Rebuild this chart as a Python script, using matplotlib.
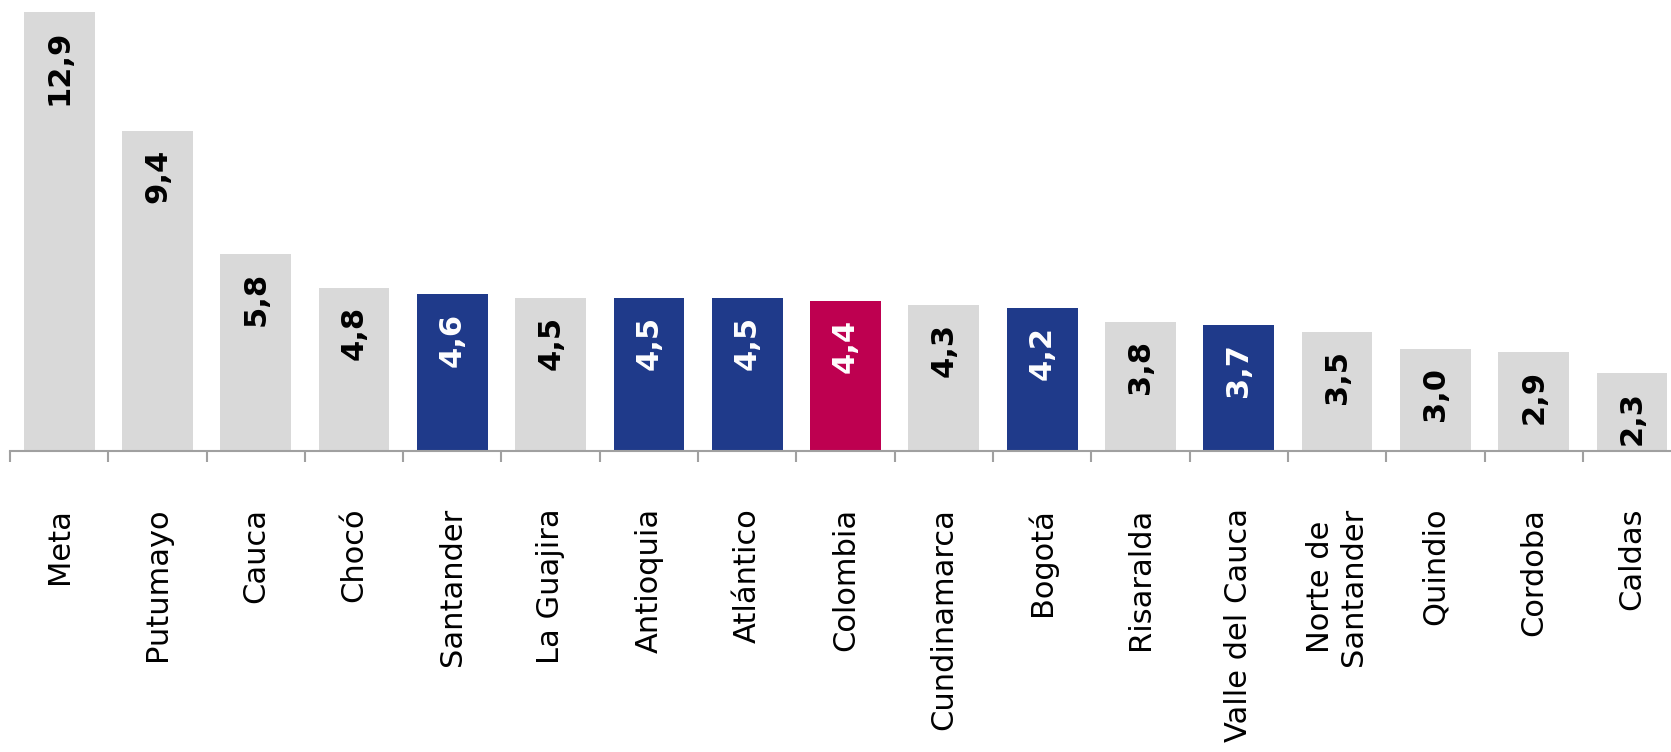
import matplotlib.pyplot as plt
import numpy as np

categorias = ["Meta", "Putumayo", "Cauca", "Chocó", "Santander", "La Guajira",
              "Antioquia", "Atlántico", "Colombia", "Cundinamarca", "Bogotá",
              "Risaralda", "Valle del Cauca", "Norte de\nSantander", "Quindio",
              "Cordoba", "Caldas"]
valores = [12.9, 9.4, 5.8, 4.8, 4.6, 4.5, 4.5, 4.5, 4.4, 4.3, 4.2, 3.8, 3.7,
           3.5, 3.0, 2.9, 2.3]
# tipo: 0 = otros, 1 = ciudades destacadas, 2 = total nacional
tipo = [0, 0, 0, 0, 1, 0, 1, 1, 2, 0, 1, 0, 1, 0, 0, 0, 0]

gris = "#D9D9D9"
azul = "#1F3A8A"
rojo = "#BE0050"
colores = [[gris, azul, rojo][t] for t in tipo]
color_texto = ["black" if t == 0 else "white" for t in tipo]

plt.rcParams['font.family'] = ['DejaVu Sans']

fig = plt.figure(figsize=(16.71, 7.52), dpi=100)
ax = fig.add_axes([10 / 1671, 301 / 752, 1671.1 / 1671, 439 / 752])

x = np.arange(len(categorias))
ax.bar(x, valores, width=0.72, color=colores)

for xi, v, c in zip(x, valores, color_texto):
    ax.annotate(f"{v:.1f}".replace(".", ","), (xi, v), xytext=(0, -13),
                textcoords='offset points', rotation=90, ha='center', va='top',
                fontsize=22, fontweight='bold', color=c)

ax.set_xlim(-0.5, len(categorias) - 0.5)
ax.set_ylim(0, 12.9)

for s in ['top', 'right', 'left']:
    ax.spines[s].set_visible(False)
ax.spines['bottom'].set_color('#A0A0A0')
ax.spines['bottom'].set_linewidth(1.5)
ax.set_yticks([])

ax.set_xticks(x)
ax.set_xticklabels(categorias, rotation=90, fontsize=22, multialignment='center')
ax.tick_params(axis='x', which='major', length=0, pad=41)
ax.set_xticks(np.arange(len(categorias) + 1) - 0.5, minor=True)
ax.tick_params(axis='x', which='minor', length=8, width=1.5, color='#A0A0A0')

fig.savefig("out.png", dpi=100)
